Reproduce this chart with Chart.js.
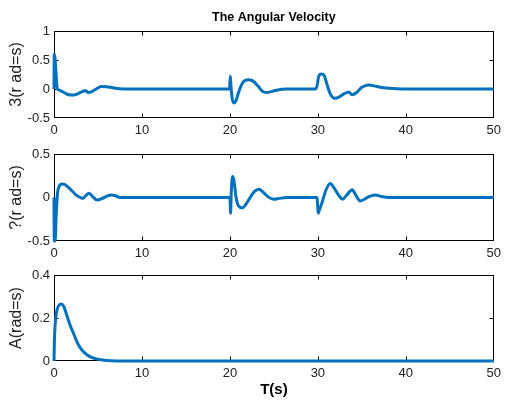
<!DOCTYPE html>
<html><head><meta charset="utf-8">
<script src="https://cdn.jsdelivr.net/npm/chart.js@4.4.1/dist/chart.umd.min.js"></script>
<style>
html,body{margin:0;padding:0;background:#fff;}
#wrap{position:relative;width:506px;height:400px;overflow:hidden;}
canvas{position:absolute;left:0;}
</style></head><body>
<div id="wrap">
<canvas id="c1" width="506" height="140" style="top:0px"></canvas>
<canvas id="c2" width="506" height="120" style="top:140px"></canvas>
<canvas id="c3" width="506" height="140" style="top:260px"></canvas>
</div>
<script>
// ---- data ----
const chartTitle = "The Angular Velocity";
const xLabel = "T(s)";
const yLabels = ["3(r ad=s)", "?(r ad=s)", "A(rad=s)"];
const xTicks = [0, 10, 20, 30, 40, 50];
const yTicks1 = [-0.5, 0, 0.5, 1];
const yTicks2 = [-0.5, 0, 0.5];
const yTicks3 = [0, 0.2, 0.4];

const t1 = [0, 0.03, 0.1, 0.2, 0.3, 0.4, 0.6, 1.0, 1.5, 2.0, 2.5, 3.0, 3.4, 3.6, 3.9, 4.3, 4.8, 5.4, 6.0, 6.7, 7.5, 10, 15, 19.95, 20.05, 20.12, 20.25, 20.45, 20.7, 21.0, 21.5, 22.1, 22.6, 23.2, 23.7, 24.1, 24.6, 25.3, 26.5, 29.7, 29.9, 30.1, 30.4, 30.7, 31.0, 31.4, 31.9, 32.5, 33.0, 33.5, 33.9, 34.4, 35.0, 35.8, 36.5, 37.5, 39, 42, 50];
const w1 = [0, 0.6, 0.55, 0.35, 0.1, 0.0, -0.02, -0.05, -0.09, -0.105, -0.095, -0.06, -0.035, -0.03, -0.06, -0.045, 0.0, 0.045, 0.04, 0.02, 0.005, 0, 0, 0, 0.22, 0.05, -0.15, -0.24, -0.2, -0.05, 0.12, 0.16, 0.14, 0.05, -0.04, -0.06, -0.05, -0.02, 0, 0, 0.05, 0.22, 0.26, 0.24, 0.1, -0.08, -0.16, -0.13, -0.08, -0.05, -0.1, -0.06, 0.03, 0.07, 0.05, 0.02, 0.005, 0, 0];

const t2 = [0, 0.03, 0.12, 0.25, 0.4, 0.6, 0.9, 1.2, 1.6, 2.0, 2.5, 3.0, 3.3, 3.6, 4.0, 4.4, 4.9, 5.5, 6.0, 6.5, 7.0, 7.5, 20.0, 20.08, 20.15, 20.3, 20.45, 20.7, 21.0, 21.4, 21.8, 22.3, 22.8, 23.3, 23.8, 24.3, 25.0, 25.6, 26.5, 29.9, 30.05, 30.15, 30.5, 30.9, 31.4, 31.9, 32.4, 32.8, 33.3, 33.9, 34.3, 34.8, 35.3, 35.8, 36.5, 37.3, 38, 50];
const w2 = [0, -0.5, -0.5, -0.2, 0.05, 0.13, 0.155, 0.15, 0.12, 0.08, 0.03, 0.0, -0.01, 0.02, 0.05, 0.01, -0.03, -0.01, 0.015, 0.03, 0.02, 0.0, 0, -0.18, 0.05, 0.24, 0.2, 0.0, -0.1, -0.12, -0.08, 0.0, 0.07, 0.095, 0.06, 0.01, -0.02, -0.01, 0, 0, -0.18, -0.15, -0.05, 0.08, 0.16, 0.1, 0.02, -0.02, 0.03, 0.09, 0.03, -0.04, -0.02, 0.01, 0.03, 0.01, 0, 0];

const t3 = [0, 0.05, 0.15, 0.3, 0.5, 0.8, 1.1, 1.4, 1.8, 2.2, 2.6, 2.9, 3.3, 3.7, 4.2, 4.8, 5.5, 6.5, 8, 50];
const w3 = [0, 0.1, 0.18, 0.23, 0.255, 0.265, 0.255, 0.22, 0.17, 0.13, 0.09, 0.067, 0.045, 0.03, 0.018, 0.01, 0.005, 0.001, 0, 0];

// ---- rendering ----
const LINE = '#0072BD';
const TXT = '#222222';
const FONT = "'Liberation Sans', Arial, Helvetica, sans-serif";

const frame = {
  id: 'frame',
  beforeDatasetsDraw(chart) {
    const {ctx, chartArea: a, scales: {x, y}} = chart;
    ctx.save();
    ctx.strokeStyle = '#000';
    ctx.lineWidth = 1;
    const L = Math.round(a.left) + 0.5, R = Math.round(a.right) - 0.5;
    const T = Math.round(a.top) + 0.5, B = Math.round(a.bottom) - 0.5;
    ctx.strokeRect(L, T, R - L, B - T);
    ctx.beginPath();
    const len = 4;
    x.ticks.forEach(tk => {
      const px = Math.round(x.getPixelForValue(tk.value)) + 0.5;
      if (px <= L + 1 || px >= R - 1) return;
      ctx.moveTo(px, B); ctx.lineTo(px, B - len);
      ctx.moveTo(px, T); ctx.lineTo(px, T + len);
    });
    y.ticks.forEach(tk => {
      const py = Math.round(y.getPixelForValue(tk.value)) + 0.5;
      if (py <= T + 1 || py >= B - 1) return;
      ctx.moveTo(L, py); ctx.lineTo(L + len, py);
      ctx.moveTo(R, py); ctx.lineTo(R - len, py);
    });
    ctx.stroke();
    ctx.restore();
  }
};

function makeChart(id, ts, ws, yTicks, yLabel, opts) {
  const pts = ts.map((t, i) => ({x: t, y: ws[i]}));
  return new Chart(document.getElementById(id), {
    type: 'line',
    data: { datasets: [{ data: pts, borderColor: LINE, borderWidth: 3, pointRadius: 0,
      cubicInterpolationMode: 'monotone', fill: false, clip: 4 }] },
    options: {
      responsive: false, animation: false, events: [],
      layout: { padding: { left: 0, right: 9, top: opts.padTop, bottom: 0 } },
      plugins: {
        legend: { display: false }, tooltip: { enabled: false },
        title: opts.title ? { display: true, text: chartTitle, fullSize: false, color: '#000',
          font: { family: FONT, size: 12.5, weight: 'bold' }, padding: { top: 10, bottom: 6 } } : { display: false }
      },
      scales: {
        x: {
          type: 'linear', min: xTicks[0], max: xTicks[xTicks.length - 1],
          afterBuildTicks: s => { s.ticks = xTicks.map(v => ({value: v})); },
          afterFit: s => { s.height = opts.xH; },
          grid: { display: false, drawTicks: false }, border: { display: false },
          ticks: { color: TXT, font: { family: FONT, size: 13 }, padding: 5, maxRotation: 0, autoSkip: false,
            callback: v => String(v) },
          title: opts.xTitle ? { display: true, text: xLabel, color: '#000',
            font: { family: FONT, size: 15, weight: 'bold' }, padding: { top: 0, bottom: 1.2 } } : { display: false }
        },
        y: {
          type: 'linear', min: yTicks[0], max: yTicks[yTicks.length - 1],
          afterBuildTicks: s => { s.ticks = yTicks.map(v => ({value: v})); },
          afterFit: s => { s.width = 54; },
          grid: { display: false, drawTicks: false }, border: { display: false },
          ticks: { color: TXT, font: { family: FONT, size: 13 }, padding: 4, autoSkip: false,
            callback: v => String(v) },
          title: { display: true, text: yLabel, color: TXT,
            font: { family: FONT, size: 16 }, padding: { top: 7.4, bottom: 0 } }
        }
      }
    },
    plugins: [frame]
  });
}

makeChart('c1', t1, w1, yTicks1, yLabels[0], { title: true, padTop: 0, xH: 22, xTitle: false });
makeChart('c2', t2, w2, yTicks2, yLabels[1], { title: false, padTop: 14, xH: 19, xTitle: false });
makeChart('c3', t3, w3, yTicks3, yLabels[2], { title: false, padTop: 15, xH: 39, xTitle: true });
</script>
</body></html>
